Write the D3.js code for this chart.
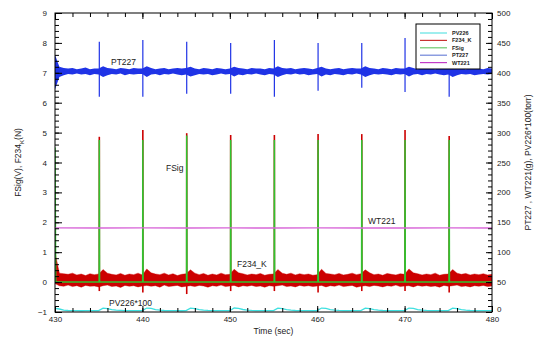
<!DOCTYPE html>
<html>
<head>
<meta charset="utf-8">
<script src="https://cdn.jsdelivr.net/npm/d3@7"></script>
<style>
  html, body { margin: 0; padding: 0; background: #fff; }
  svg { display: block; font-family: "Liberation Sans", Arial, sans-serif; }
</style>
</head>
<body>
<svg id="chart" width="537" height="337"></svg>
<script>
// ---- data ----------------------------------------------------------------
// time grid of the sampled envelopes (s)
const sampleStart = 430, sampleStep = 0.5;

// pulse instants (s) and pulse amplitudes
const pulseTimes = [435.07, 440.05, 445.07, 450.1, 455.1, 460.1, 465.1, 470.05, 475.1];
const fsigStart = 4.5;                       // FSig at t = 430 (V)
const fsigPeak  = [4.75, 4.75, 4.9, 4.75, 4.75, 4.75, 4.75, 4.75, 4.75];
const fsigBase  = 0.0;
const f234Peak  = [4.86, 5.09, 4.98, 4.92, 4.92, 4.95, 4.95, 5.09, 4.89];
const f234Dip   = [-0.30, -0.35, -0.40, -0.30, -0.30, -0.35, -0.30, -0.30, -0.35];
const pt227Up   = [452, 455, 452, 450, 455, 450, 450, 458, 425];
const pt227Down = [360, 360, 365, 365, 360, 370, 375, 368, 360];

// F234_K noise envelope (N), one value per 0.5 s
const f234High = [
  1.00,0.30,0.28,0.26,0.30,0.24,0.27,0.22,0.28,0.25,
  0.27,0.42,0.30,0.26,0.24,0.29,0.23,0.27,0.25,0.30,
  0.24,0.44,0.31,0.27,0.25,0.30,0.24,0.28,0.22,0.26,
  0.28,0.41,0.30,0.25,0.29,0.23,0.27,0.24,0.30,0.25,
  0.26,0.43,0.31,0.28,0.24,0.27,0.25,0.29,0.23,0.26,
  0.27,0.42,0.30,0.26,0.30,0.24,0.28,0.25,0.27,0.23,
  0.25,0.43,0.29,0.27,0.25,0.29,0.24,0.26,0.30,0.25,
  0.28,0.41,0.31,0.25,0.27,0.23,0.29,0.26,0.24,0.28,
  0.26,0.44,0.31,0.28,0.24,0.27,0.25,0.30,0.23,0.26,
  0.27,0.42,0.30,0.26,0.29,0.24,0.27,0.25,0.28,0.24,
  0.26];
const f234Low = [
  -0.05,-0.12,-0.14,-0.10,-0.15,-0.12,-0.17,-0.11,-0.14,-0.13,
  -0.16,-0.12,-0.10,-0.15,-0.13,-0.18,-0.11,-0.14,-0.12,-0.16,
  -0.13,-0.11,-0.14,-0.12,-0.17,-0.10,-0.15,-0.13,-0.11,-0.16,
  -0.14,-0.12,-0.15,-0.11,-0.13,-0.17,-0.12,-0.14,-0.10,-0.15,
  -0.13,-0.11,-0.16,-0.12,-0.14,-0.11,-0.15,-0.13,-0.17,-0.12,
  -0.14,-0.12,-0.10,-0.15,-0.13,-0.16,-0.11,-0.14,-0.12,-0.15,
  -0.13,-0.11,-0.16,-0.12,-0.14,-0.10,-0.15,-0.13,-0.11,-0.17,
  -0.14,-0.12,-0.15,-0.11,-0.13,-0.16,-0.12,-0.14,-0.10,-0.15,
  -0.13,-0.12,-0.16,-0.11,-0.14,-0.12,-0.15,-0.13,-0.17,-0.11,
  -0.14,-0.12,-0.10,-0.15,-0.13,-0.16,-0.12,-0.14,-0.11,-0.15,
  -0.13];

// PT227 noise envelope (g), one value per 0.5 s
const pt227High = [
  430,410,408,407,408,406,407,409,406,407,
  407,411,408,407,406,408,407,406,408,407,
  407,411,408,406,407,408,406,407,408,407,
  408,410,407,406,408,407,406,408,407,406,
  407,410,408,407,406,408,407,407,406,408,
  407,411,408,407,408,406,407,408,407,406,
  408,410,407,406,407,408,406,407,408,407,
  407,411,408,407,406,408,407,406,408,407,
  407,410,408,406,407,408,407,406,408,407,
  407,411,408,407,406,407,408,407,406,408,
  407];
const pt227Low = [
  372,393,396,398,397,399,397,398,396,398,
  397,393,396,398,397,399,396,398,397,398,
  398,393,397,398,396,398,397,399,397,396,
  397,394,396,398,397,398,396,397,399,397,
  398,394,397,396,398,397,399,397,396,398,
  397,393,396,398,397,399,397,398,396,397,
  398,394,397,396,398,397,396,398,397,399,
  397,393,396,398,397,398,397,396,398,397,
  398,394,397,398,396,398,397,399,397,396,
  397,393,396,398,397,398,396,397,398,397,
  398];

// PV226*100 (torr), one value per 0.5 s
const pv226 = [
  6.2,5.0,3.2,2.5,2.2,2.3,2.1,2.2,2.3,2.2,
  2.4,6.5,5.8,4.0,3.0,2.6,2.3,2.2,2.4,2.2,
  2.3,6.6,5.9,4.1,3.1,2.5,2.3,2.2,2.3,2.1,
  2.3,6.4,5.7,4.0,3.0,2.6,2.4,2.2,2.2,2.3,
  2.2,6.7,6.0,4.2,3.1,2.6,2.3,2.2,2.4,2.2,
  2.3,6.5,5.8,4.0,3.0,2.5,2.3,2.3,2.2,2.1,
  2.3,6.6,5.9,4.1,3.1,2.6,2.3,2.2,2.3,2.2,
  2.2,6.4,5.7,4.0,3.0,2.5,2.4,2.2,2.2,2.3,
  2.3,6.6,5.9,4.1,3.1,2.6,2.3,2.2,2.3,2.2,
  2.2,6.5,5.8,4.0,3.0,2.5,2.3,2.2,2.2,2.3,
  2.2];

// WT221 (g), one value per 5 s
const wt221Times  = [430, 435, 440, 445, 450, 455, 460, 465, 470, 475, 480];
const wt221Values = [140.6, 140.5, 140.6, 140.4, 140.6, 140.5, 140.6, 140.5, 140.4, 140.6, 140.5];

// axes
const xTicks      = [430, 440, 450, 460, 470, 480];
const leftTicks   = [-1, 0, 1, 2, 3, 4, 5, 6, 7, 8, 9];
const rightTicks  = [0, 50, 100, 150, 200, 250, 300, 350, 400, 450, 500];
const legendNames = ["PV226", "F234_K", "FSig", "PT227", "WT221"];

// ---- layout --------------------------------------------------------------
const svg = d3.select("#chart");
const L = 55, R = 492, T = 13, B = 312;
const x  = d3.scaleLinear().domain([430, 480]).range([L, R]);
const yL = d3.scaleLinear().domain([-1, 9]).range([B, T]);
const yR = d3.scaleLinear().domain([0, 500]).range([B, T]);

const colors = {
  PV226: "#3fe0e0", F234_K: "#cc0000", FSig: "#2fc42f", PT227: "#1f33e6", WT221: "#d865d8"
};
const legendColors = {
  PV226: "#5fe3e3", F234_K: "#c83232", FSig: "#6cc86c", PT227: "#6f85d8", WT221: "#c23cc8"
};

const tAt = i => sampleStart + i * sampleStep;

const plot = svg.append("g");
svg.append("clipPath").attr("id", "clip")
  .append("rect").attr("x", L).attr("y", T).attr("width", R - L).attr("height", B - T);
plot.attr("clip-path", "url(#clip)");

// PV226*100
plot.append("path")
  .datum(pv226)
  .attr("fill", "none").attr("stroke", colors.PV226).attr("stroke-width", 1.3)
  .attr("d", d3.line().x((d, i) => x(tAt(i))).y(d => yR(d)));

// F234_K: noise band, then spikes
plot.append("path")
  .datum(f234High)
  .attr("fill", colors.F234_K).attr("stroke", colors.F234_K).attr("stroke-width", 0.4)
  .attr("d", d3.area().x((d, i) => x(tAt(i))).y0((d, i) => yL(f234Low[i])).y1(d => yL(d)));
plot.selectAll(".f234spike")
  .data(pulseTimes)
  .join("line")
  .attr("stroke", colors.F234_K).attr("stroke-width", 1.6)
  .attr("x1", d => x(d)).attr("x2", d => x(d))
  .attr("y1", (d, i) => yL(f234Dip[i])).attr("y2", (d, i) => yL(f234Peak[i]));

// FSig: flat baseline with narrow pulses
const fsigPts = [[430, fsigStart], [430.08, fsigBase]];
pulseTimes.forEach((t, i) => {
  fsigPts.push([t - 0.02, fsigBase], [t, fsigPeak[i]], [t + 0.03, fsigBase]);
});
fsigPts.push([480, fsigBase]);
plot.append("path")
  .datum(fsigPts)
  .attr("fill", "none").attr("stroke", colors.FSig).attr("stroke-width", 1.5)
  .attr("d", d3.line().x(d => x(d[0])).y(d => yL(d[1])));

// PT227: noise band and spikes
plot.append("path")
  .datum(pt227High)
  .attr("fill", colors.PT227)
  .attr("d", d3.area().x((d, i) => x(tAt(i))).y0((d, i) => yR(pt227Low[i])).y1(d => yR(d)));
plot.selectAll(".ptspike")
  .data(pulseTimes)
  .join("line")
  .attr("stroke", colors.PT227).attr("stroke-width", 1.2)
  .attr("x1", d => x(d)).attr("x2", d => x(d))
  .attr("y1", (d, i) => yR(pt227Down[i])).attr("y2", (d, i) => yR(pt227Up[i]));

// WT221
plot.append("path")
  .datum(wt221Values)
  .attr("fill", "none").attr("stroke", colors.WT221).attr("stroke-width", 1.4)
  .attr("d", d3.line().x((d, i) => x(wt221Times[i])).y(d => yR(d)));

// ---- axes ----------------------------------------------------------------
const textColor = "#222";
function styleAxis(g) {
  g.select(".domain").remove();
  g.selectAll(".tick line").attr("stroke", "#000");
  g.selectAll(".tick text").attr("fill", textColor).style("font-size", "8px")
    .style("font-family", "'Liberation Sans', Arial, sans-serif");
}
const range = (a, b, s) => d3.range(a, b + s / 2, s);

// bottom
svg.append("g").attr("transform", `translate(0,${B})`)
  .call(d3.axisBottom(x).tickValues(range(430, 480, 2)).tickSize(-4).tickFormat(""))
  .call(styleAxis);
svg.append("g").attr("transform", `translate(0,${B})`)
  .call(d3.axisBottom(x).tickValues(xTicks).tickSize(-6).tickPadding(4).tickFormat(d3.format("d")))
  .call(styleAxis);
// top
svg.append("g").attr("transform", `translate(0,${T})`)
  .call(d3.axisTop(x).tickValues(range(430, 480, 2)).tickSize(-4).tickFormat(""))
  .call(styleAxis);
svg.append("g").attr("transform", `translate(0,${T})`)
  .call(d3.axisTop(x).tickValues(xTicks).tickSize(-6).tickFormat(""))
  .call(styleAxis);
// left
svg.append("g").attr("transform", `translate(${L},0)`)
  .call(d3.axisLeft(yL).tickValues(range(-1, 9, 0.2)).tickSize(-4).tickFormat(""))
  .call(styleAxis);
svg.append("g").attr("transform", `translate(${L},0)`)
  .call(d3.axisLeft(yL).tickValues(leftTicks).tickSize(-7).tickPadding(8).tickFormat(d3.format("d")))
  .call(styleAxis);
// right
svg.append("g").attr("transform", `translate(${R},0)`)
  .call(d3.axisRight(yR).tickValues(range(0, 500, 10)).tickSize(-4).tickFormat(""))
  .call(styleAxis);
const rAxis = svg.append("g").attr("transform", `translate(${R},0)`)
  .call(d3.axisRight(yR).tickValues(rightTicks).tickSize(-6).tickPadding(5).tickFormat(d3.format("d")))
  .call(styleAxis);
// the lowest right label sits just above the corner
rAxis.selectAll(".tick text").filter(d => d === 0).attr("dy", "-0.05em");

// frame
svg.append("rect").attr("x", L).attr("y", T).attr("width", R - L).attr("height", B - T)
  .attr("fill", "none").attr("stroke", "#000").attr("stroke-width", 1);

// axis titles
svg.append("text").attr("x", (L + R) / 2).attr("y", 334).attr("text-anchor", "middle")
  .attr("fill", textColor).style("font-size", "8.5px").text("Time (sec)");

const lt = svg.append("text").attr("transform", `translate(21,${(T + B) / 2}) rotate(-90)`)
  .attr("text-anchor", "middle").attr("fill", textColor).style("font-size", "8.5px");
lt.append("tspan").text("FSig(V), F234");
lt.append("tspan").attr("baseline-shift", "sub").style("font-size", "6px").text("K");
lt.append("tspan").text("(N)");

svg.append("text").attr("transform", `translate(531,${(T + B) / 2}) rotate(-90)`)
  .attr("text-anchor", "middle").attr("fill", textColor).style("font-size", "8.5px")
  .text("PT227 , WT221(g), PV226*100(torr)");

// series labels
const labels = [
  { t: "PT227",     x: 111, y: 65 },
  { t: "FSig",      x: 166, y: 171 },
  { t: "WT221",     x: 368, y: 224 },
  { t: "F234_K",    x: 237, y: 267 },
  { t: "PV226*100", x: 109, y: 306 }
];
svg.selectAll(".lbl").data(labels).join("text")
  .attr("x", d => d.x).attr("y", d => d.y).attr("fill", textColor)
  .style("font-size", "8.5px").text(d => d.t);

// legend
const lg = svg.append("g");
lg.append("rect").attr("x", 416).attr("y", 24).attr("width", 64).attr("height", 45)
  .attr("fill", "#fff").attr("stroke", "#000").attr("stroke-width", 1);
legendNames.forEach((n, i) => {
  const yy = 33 + i * 7.4;
  lg.append("line").attr("x1", 420).attr("x2", 447).attr("y1", yy).attr("y2", yy)
    .attr("stroke", legendColors[n]).attr("stroke-width", 1.2);
  lg.append("text").attr("x", 452).attr("y", yy + 2).attr("fill", textColor)
    .style("font-size", "5.5px").style("font-weight", "bold").text(n);
});
</script>
</body>
</html>
